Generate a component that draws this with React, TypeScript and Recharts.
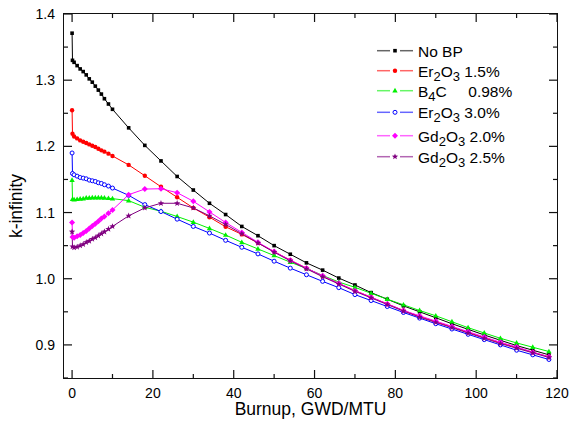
import React from "react";
import { LineChart, Line, XAxis, YAxis, Label } from "recharts";

const burnup = [
  0, 0.1, 0.5, 1.25, 2, 2.75, 3.5, 4.25, 5, 5.75, 6.5, 7.25, 8, 9, 10,
  14, 18, 22, 26, 30, 34, 38, 42, 46, 50, 54, 58, 62, 66, 70, 74, 78, 82, 86,
  90, 94, 98, 102, 106, 110, 114, 118,
];

const noBp = [
  1.371, 1.33, 1.327, 1.322, 1.317, 1.313, 1.308, 1.302, 1.297, 1.291, 1.285, 1.279, 1.272, 1.264, 1.256,
  1.228, 1.2015, 1.178, 1.1545, 1.134, 1.114, 1.097, 1.079, 1.065, 1.05, 1.037, 1.024, 1.013, 1.001,
  0.9905, 0.979, 0.969, 0.959, 0.95, 0.941, 0.932, 0.9235, 0.915, 0.907, 0.899, 0.892, 0.885,
];
const er15 = [
  1.2545, 1.219, 1.215, 1.212, 1.209, 1.207, 1.205, 1.203, 1.201, 1.199, 1.1965, 1.194, 1.192, 1.189, 1.1855,
  1.172, 1.1556, 1.139, 1.123, 1.107, 1.093, 1.0785, 1.067, 1.054, 1.041, 1.028, 1.016, 1.004, 0.993,
  0.982, 0.972, 0.962, 0.952, 0.943, 0.935, 0.927, 0.919, 0.911, 0.903, 0.896, 0.889, 0.882,
];
const b4c = [
  1.149, 1.12, 1.1195, 1.12, 1.1205, 1.121, 1.122, 1.122, 1.1225, 1.1225, 1.1225, 1.1225, 1.122, 1.1215, 1.121,
  1.118, 1.108, 1.102, 1.094, 1.0855, 1.076, 1.066, 1.055, 1.045, 1.035, 1.025, 1.0155, 1.005, 0.995,
  0.987, 0.978, 0.969, 0.9606, 0.952, 0.944, 0.935, 0.926, 0.918, 0.91, 0.903, 0.8965, 0.89,
];
const er30 = [
  1.19, 1.159, 1.157, 1.155, 1.153, 1.152, 1.151, 1.149, 1.148, 1.147, 1.145, 1.144, 1.142, 1.14, 1.137,
  1.126, 1.112, 1.1015, 1.09, 1.079, 1.069, 1.058, 1.0475, 1.0375, 1.0265, 1.016, 1.006, 0.996, 0.9865,
  0.976, 0.967, 0.958, 0.949, 0.9405, 0.932, 0.924, 0.916, 0.908, 0.9, 0.892, 0.885, 0.878,
];
const gd20 = [
  1.085, 1.063, 1.062, 1.064, 1.066, 1.069, 1.072, 1.076, 1.0795, 1.083, 1.087, 1.091, 1.094, 1.099, 1.104,
  1.127, 1.1355, 1.136, 1.13, 1.117, 1.101, 1.085, 1.07, 1.055, 1.041, 1.028, 1.016, 1.0045, 0.993,
  0.982, 0.972, 0.962, 0.952, 0.944, 0.936, 0.928, 0.92, 0.912, 0.904, 0.897, 0.889, 0.882,
];
const gd25 = [
  1.071, 1.0485, 1.047, 1.048, 1.05, 1.052, 1.055, 1.057, 1.06, 1.062, 1.065, 1.068, 1.071, 1.075, 1.079,
  1.095, 1.107, 1.114, 1.114, 1.107, 1.095, 1.082, 1.068, 1.054, 1.04, 1.027, 1.015, 1.003, 0.992,
  0.981, 0.971, 0.961, 0.951, 0.942, 0.934, 0.926, 0.918, 0.91, 0.902, 0.895, 0.888, 0.881,
];

const xTicks = [0, 10, 20, 30, 40, 50, 60, 70, 80, 90, 100, 110, 120];
const yTicks = [0.85, 0.9, 0.95, 1.0, 1.05, 1.1, 1.15, 1.2, 1.25, 1.3, 1.35, 1.4];

const seriesKeys = ["noBp", "er15", "b4c", "er30", "gd20", "gd25"];
const seriesNames = [
  "No BP",
  "Er_2O_3 1.5%",
  "B_4C\u00a0\u00a0\u00a0\u00a0 0.98%",
  "Er_2O_3 3.0%",
  "Gd_2O_3 2.0%",
  "Gd_2O_3 2.5%",
];
const seriesValues = [noBp, er15, b4c, er30, gd20, gd25];
const seriesColors = ["#000000", "#ff0000", "#00f000", "#0000ff", "#ff00ff", "#800080"];
const seriesShapes = ["square", "circle", "triangle", "open", "diamond", "star"];

const rows = burnup.map((b, i) => {
  const row: Record<string, number> = { burnup: b };
  seriesKeys.forEach((k, s) => {
    row[k] = seriesValues[s][i];
  });
  return row;
});

const FONT = "'Liberation Sans', Arial, sans-serif";
const INK = "#111";
const W = 569;
const H = 427;
const TICK_GAP = 9;
const PLOT = { left: 64, top: 14, right: 557, bottom: 378 };
const X_DOMAIN = [-2, 120];
const Y_DOMAIN = [0.85, 1.4];

// same linear mapping the chart's axes use (margins + axis sizes below)
const sx = (v: number) =>
  ((v - X_DOMAIN[0]) / (X_DOMAIN[1] - X_DOMAIN[0])) * (PLOT.right - PLOT.left);
const sy = (v: number) =>
  (PLOT.bottom - PLOT.top) - ((v - Y_DOMAIN[0]) / (Y_DOMAIN[1] - Y_DOMAIN[0])) * (PLOT.bottom - PLOT.top);

function Marker({ shape, color, cx, cy }: { shape: string; color: string; cx: number; cy: number }) {
  switch (shape) {
    case "square":
      return <rect x={cx - 1.8} y={cy - 1.8} width={3.6} height={3.6} fill={color} />;
    case "circle":
      return <circle cx={cx} cy={cy} r={2.2} fill={color} />;
    case "triangle":
      return <path d={`M${cx},${cy - 2.9}L${cx + 2.7},${cy + 1.8}L${cx - 2.7},${cy + 1.8}Z`} fill={color} />;
    case "open":
      return <circle cx={cx} cy={cy} r={2} fill="#fff" stroke={color} strokeWidth={1} />;
    case "diamond":
      return <path d={`M${cx},${cy - 3}L${cx + 3},${cy}L${cx},${cy + 3}L${cx - 3},${cy}Z`} fill={color} />;
    default: {
      let d = "";
      for (let k = 0; k < 10; k++) {
        const r = k % 2 === 0 ? 3.3 : 1.4;
        const a = -Math.PI / 2 + (k * Math.PI) / 5;
        d += `${k === 0 ? "M" : "L"}${cx + r * Math.cos(a)},${cy + r * Math.sin(a)}`;
      }
      return <path d={d + "Z"} fill={color} />;
    }
  }
}

// "Er_2O_3" -> Er, subscript 2, O, subscript 3
function renderLabel(name: string) {
  const parts = name.split(/(_\d)/).filter((p) => p !== "");
  let shift = 0;
  return parts.map((part, i) => {
    if (part.startsWith("_")) {
      const dy = 4 - shift;
      shift = 4;
      return (
        <tspan key={i} dy={dy} fontSize={13}>
          {part.slice(1)}
        </tspan>
      );
    }
    const dy = -shift;
    shift = 0;
    return (
      <tspan key={i} dy={dy}>
        {part}
      </tspan>
    );
  });
}

const legendBaselines = [26.7, 46.7, 66.7, 88.3, 111.7, 132.7];

function LegendBox() {
  return (
    <svg width={190} height={145} style={{ display: "block", overflow: "visible" }}>
      {seriesNames.map((name, i) => {
        const by = legendBaselines[i];
        const my = by - 6;
        return (
          <g key={name}>
            <line x1={17} x2={30} y1={my} y2={my} stroke={seriesColors[i]} strokeOpacity={0.6} strokeWidth={1.5} />
            <line x1={40} x2={53} y1={my} y2={my} stroke={seriesColors[i]} strokeOpacity={0.6} strokeWidth={1.5} />
            <Marker shape={seriesShapes[i]} color={seriesColors[i]} cx={35} cy={my} />
            <text x={58} y={by} fontSize={15.5} fontFamily={FONT} fill="#000" style={{ whiteSpace: "pre" }}>
              {renderLabel(name)}
            </text>
          </g>
        );
      })}
    </svg>
  );
}

function isMajorX(v: number) {
  return v % 20 === 0;
}

function isMajorY(v: number) {
  return Math.abs(v * 10 - Math.round(v * 10)) < 1e-6;
}

// inward tick marks on all four sides, in plot-local coordinates
function TickMarks() {
  const pw = PLOT.right - PLOT.left;
  const ph = PLOT.bottom - PLOT.top;
  return (
    <svg width={pw} height={ph} style={{ display: "block", overflow: "visible" }}>
      {xTicks.map((v) => {
        const len = isMajorX(v) ? 8 : 4;
        const x = sx(v);
        return (
          <g key={`x${v}`}>
            <rect x={x - 0.6} y={ph - len} width={1.2} height={len} fill={INK} />
            <rect x={x - 0.6} y={0} width={1.2} height={len} fill={INK} />
          </g>
        );
      })}
      {yTicks.map((v) => {
        const len = isMajorY(v) ? 8 : 4;
        const y = sy(v);
        return (
          <g key={`y${v}`}>
            <rect x={0} y={y - 0.6} width={len} height={1.2} fill={INK} />
            <rect x={pw - len} y={y - 0.6} width={len} height={1.2} fill={INK} />
          </g>
        );
      })}
    </svg>
  );
}

function BottomTick(props: any) {
  const { x, y, payload } = props;
  const v = payload.value;
  if (!isMajorX(v)) return <g />;
  return (
    <text x={x} y={y} dy="0.75em" textAnchor="middle" fontSize={14} fontFamily={FONT} fill="#000">
      {v}
    </text>
  );
}

function LeftTick(props: any) {
  const { x, y, payload } = props;
  const v = payload.value;
  if (!isMajorY(v)) return <g />;
  return (
    <text x={x} y={y} dy="0.36em" textAnchor="end" fontSize={14} fontFamily={FONT} fill="#000">
      {v.toFixed(1)}
    </text>
  );
}

function XTitle(props: any) {
  const vb = props.viewBox;
  return (
    <text x={vb.x + vb.width / 2} y={415} textAnchor="middle" fontSize={17.5} fontFamily={FONT} fill="#000">
      Burnup, GWD/MTU
    </text>
  );
}

function YTitle(props: any) {
  const vb = props.viewBox;
  const cy = vb.y + vb.height / 2 + 10;
  return (
    <text x={22} y={cy} transform={`rotate(-90, 22, ${cy})`} textAnchor="middle" fontSize={17.5} fontFamily={FONT} fill="#000">
      k-infinity
    </text>
  );
}

export default function App() {
  return (
    <div style={{ position: "absolute", left: 0, top: 0, width: W, height: H, background: "#fff" }}>
      <LineChart
        width={W}
        height={H}
        data={rows}
        margin={{ top: PLOT.top, right: W - PLOT.right, left: 0, bottom: 0 }}
      >
        <XAxis
          dataKey="burnup"
          type="number"
          domain={X_DOMAIN}
          ticks={xTicks}
          interval={0}
          tickSize={0}
          tickMargin={TICK_GAP}
          tick={<BottomTick />}
          axisLine={false}
          tickLine={false}
          height={H - PLOT.bottom}
        >
          <Label content={<XTitle />} />
        </XAxis>
        <YAxis
          type="number"
          domain={Y_DOMAIN}
          ticks={yTicks}
          interval={0}
          tickSize={0}
          tickMargin={TICK_GAP}
          tick={<LeftTick />}
          axisLine={false}
          tickLine={false}
          width={PLOT.left}
        >
          <Label content={<YTitle />} />
        </YAxis>
        {seriesKeys.map((k, i) => (
          <Line
            key={k}
            dataKey={k}
            name={seriesNames[i]}
            type="linear"
            stroke={seriesColors[i]}
            strokeWidth={1}
            isAnimationActive={false}
            dot={(p: any) => (
              <Marker key={`${k}-${p.index}`} shape={seriesShapes[i]} color={seriesColors[i]} cx={p.cx} cy={p.cy} />
            )}
            activeDot={false}
          />
        ))}
      </LineChart>
      <div
        style={{
          position: "absolute",
          left: PLOT.left - 1,
          top: PLOT.top - 1,
          width: PLOT.right - PLOT.left,
          height: PLOT.bottom - PLOT.top,
          border: `1.5px solid ${INK}`,
          pointerEvents: "none",
        }}
      />
      <div style={{ position: "absolute", left: PLOT.left, top: PLOT.top, pointerEvents: "none" }}>
        <TickMarks />
      </div>
      <div style={{ position: "absolute", left: 360, top: 30 }}>
        <LegendBox />
      </div>
    </div>
  );
}
